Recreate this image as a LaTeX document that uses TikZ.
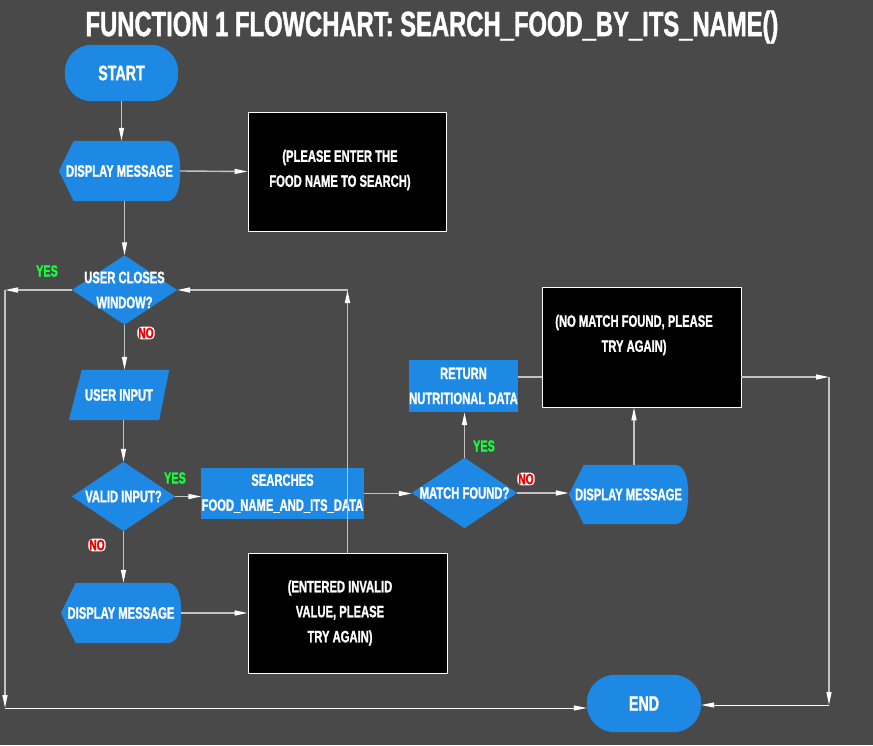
\documentclass[tikz,border=0pt]{standalone}
\usepackage{fontspec}
\newfontfamily\cf{Liberation Sans}[UprightFont={* Bold}, FakeStretch=0.68, FakeBold=1.2]
\usetikzlibrary{arrows.meta}
\pgfdeclarelayer{back}
\pgfdeclarelayer{bg}
\pgfsetlayers{back,bg,main}
\definecolor{bgc}{RGB}{73,73,73}
\definecolor{fblue}{RGB}{30,137,228}
\definecolor{lgray}{RGB}{195,195,195}
\definecolor{ygreen}{RGB}{20,255,60}
\definecolor{nred}{RGB}{240,0,0}
\begin{document}
\begin{tikzpicture}[x=1pt,y=-1pt,
  txt/.style={inner sep=0pt, text=white, font=\cf\fontsize{16.5}{25}\selectfont, align=center},
  big/.style={txt, font=\cf\fontsize{21}{25}\selectfont},
  ttl/.style={inner sep=0pt, text=white, font=\cf\fontsize{35}{40}\selectfont},
  blk/.style={draw=white, line width=0.8pt, fill=black, inner sep=0pt},
  yes/.style={inner sep=0pt, text=ygreen, font=\cf\fontsize{16}{20}\selectfont},
  no/.style={inner sep=1pt, fill=white, rounded corners=4pt, text=nred, font=\cf\fontsize{15}{18}\selectfont},
  conn/.style={draw=lgray, line width=1.4pt, -{Triangle[length=13pt,width=5pt,color=white]}},
  plain/.style={draw=lgray, line width=1.4pt},
  thin/.style={draw=white, line width=0.9pt, -{Triangle[length=13pt,width=5pt,color=white]}}
]
\begin{pgfonlayer}{back}
\fill[bgc] (0,0) rectangle (873,745);
\end{pgfonlayer}
\useasboundingbox (0,0) rectangle (873,745);

% title
\node[ttl] (title) at (432,27) {FUNCTION 1 FLOWCHART: SEARCH\_FOOD\_BY\_ITS\_NAME()};

% nodes
\node[big, minimum width=113pt, minimum height=56pt] (start) at (121.5,73) {START};
\node[txt, minimum width=121pt, minimum height=60pt] (dm1) at (119.5,171) {DISPLAY MESSAGE};
\node[blk, minimum width=198pt, minimum height=119pt] (box1) at (347,171.5) {};
\node[txt] (t1) at (340,170) {(PLEASE ENTER THE\\FOOD NAME TO SEARCH)};
\node[txt, minimum width=105pt, minimum height=69pt] (d1) at (124.5,290) {USER CLOSES\\WINDOW?};
\node[txt, minimum width=100pt, minimum height=50pt] (ui) at (119,395) {USER INPUT};
\node[txt, minimum width=103pt, minimum height=69pt] (d2) at (123.5,496.5) {VALID INPUT?};
\node[txt, minimum width=105pt, minimum height=51pt] (search) at (282.5,493.5) {SEARCHES\\FOOD\_NAME\_AND\_ITS\_DATA};
\node[txt, minimum width=120pt, minimum height=60pt] (dm2) at (121,613) {DISPLAY MESSAGE};
\node[blk, minimum width=199pt, minimum height=120pt] (box3) at (347.5,613) {};
\node[txt] (t3) at (340,613) {(ENTERED INVALID\\VALUE, PLEASE\\TRY AGAIN)};
\node[txt, minimum width=105pt, minimum height=70pt] (match) at (464.5,493) {MATCH FOUND?};
\node[txt, minimum width=105pt, minimum height=52pt] (ret) at (463.5,386) {RETURN\\NUTRITIONAL DATA};
\node[blk, minimum width=199pt, minimum height=120pt] (box2) at (641.5,347) {};
\node[txt] (t2) at (634,335) {(NO MATCH FOUND, PLEASE\\TRY AGAIN)};
\node[txt, minimum width=119pt, minimum height=59pt] (dm3) at (628.5,494.5) {DISPLAY MESSAGE};
\node[big, minimum width=114pt, minimum height=57pt] (end) at (644,703.5) {END};

% labels
\node[yes] (y1) at (47,271) {YES};
\node[no] (n1) at (146,333) {NO};
\node[yes] (y2) at (175,478) {YES};
\node[no] (n2) at (97,545) {NO};
\node[yes] (y3) at (484,446) {YES};
\node[no] (n3) at (526,479) {NO};

% shapes
\begin{pgfonlayer}{bg}
\fill[fblue, rounded corners=27pt] (start.north west) rectangle (start.south east);
\fill[fblue, rounded corners=28pt] (end.north west) rectangle (end.south east);
\foreach \n in {dm1,dm2,dm3}{
  \fill[fblue] (\n.west) -- ([xshift=15pt]\n.north west) -- ([xshift=-14pt]\n.north east)
    .. controls ([xshift=-3pt]\n.north east) and ([yshift=16pt]\n.east) .. (\n.east)
    .. controls ([yshift=-16pt]\n.east) and ([xshift=-3pt]\n.south east) .. ([xshift=-14pt]\n.south east)
    -- ([xshift=15pt]\n.south west) -- cycle;
}
\foreach \n in {d1,d2,match}{
  \fill[fblue] (\n.north) -- (\n.east) -- (\n.south) -- (\n.west) -- cycle;
}
\fill[fblue] ([xshift=13pt]ui.north west) -- (ui.north east) -- ([xshift=-10pt]ui.south east) -- (ui.south west) -- cycle;
\fill[fblue] (search.north west) rectangle (search.south east);
\fill[fblue] (ret.north west) rectangle (ret.south east);
\end{pgfonlayer}

% coordinates
\coordinate (cl) at (5,708);
\coordinate (cr) at (829,705);

% connectors
\draw[conn] (start.south) -- (start.south |- dm1.north);
\draw[conn] (dm1.east) -- (box1.west);
\draw[conn] (dm1.south -| d1.north) -- (d1.north);
\draw[conn] (d1.west) -- (d1.west -| cl);
\draw[conn] (d1.west -| cl) -- (cl);
\draw[thin] (cl) -- (cl -| end.west);
\draw[conn] (d1.south) -- (d1.south |- ui.north);
\draw[conn] (ui.south -| d2.north) -- (d2.north);
\draw[conn] (d2.east) -- (d2.east -| search.west);
\draw[conn] (search.east) -- (search.east -| match.west);
\draw[conn] (d2.south) -- (d2.south |- dm2.north);
\draw[conn] (dm2.east) -- (box3.west);
\draw[conn] (box3.north) -- (box3.north |- d1.east);
\draw[conn] (box3.north |- d1.east) -- (d1.east);
\draw[conn] (match.north) -- (match.north |- ret.south);
\draw[conn] (match.east) -- (match.east -| dm3.west);
\draw[conn] ([xshift=5.5pt]dm3.north) -- ([xshift=5.5pt]dm3.north |- box2.south);
\draw[plain] ([yshift=9pt]ret.east) -- ([yshift=9pt]ret.east -| box2.west);
\draw[conn] ([yshift=-30pt]box2.east) -- ([yshift=-30pt]box2.east -| cr);
\draw[conn] ([yshift=-30pt]box2.east -| cr) -- (cr);
\draw[thin] (cr) -- (cr -| end.east);
\end{tikzpicture}
\end{document}
